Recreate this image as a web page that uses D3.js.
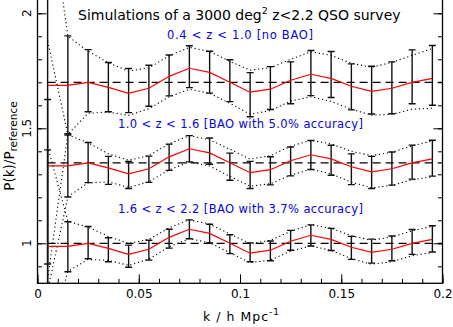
<!DOCTYPE html>
<html>
<head>
<meta charset="utf-8">
<script src="https://cdn.jsdelivr.net/npm/d3@7"></script>
<style>
  body { margin: 0; background: #fff; }
  text { font-family: "DejaVu Sans", sans-serif; }
</style>
</head>
<body>
<svg id="chart" width="453" height="327"></svg>
<script>
// k bins (h/Mpc)
var kValues = [0.005,0.015,0.025,0.035,0.045,0.055,0.065,0.075,0.085,0.095,
               0.105,0.115,0.125,0.135,0.145,0.155,0.165,0.175,0.185,0.195]

// model ratio P(k)/P_reference (red line, same for every redshift bin)
var modelRatio = [0.987,0.987,1.000,0.978,0.952,0.974,1.026,1.061,1.043,1.000,
                  0.957,0.970,1.009,1.035,1.017,0.983,0.961,0.974,1.000,1.017]

// simulated points and errors, 0.4 < z < 1.0
var lowZRatio = [1.053,0.989,1.007,0.979,0.964,0.985,1.030,1.068,1.044,1.007,
                 0.946,0.975,0.998,1.040,1.034,0.980,0.966,0.976,1.024,1.030]
var lowZSigma = [0.843,0.213,0.135,0.107,0.096,0.089,0.089,0.091,0.091,0.091,
                 0.096,0.093,0.091,0.098,0.100,0.100,0.104,0.113,0.117,0.130]

// 1.0 < z < 1.6
var midZRatio = [0.732,0.986,1.001,0.967,0.947,0.972,1.024,1.061,1.051,0.983,
                 0.947,0.965,1.006,1.034,1.011,0.972,0.958,0.975,1.003,1.020]
var midZSigma = [0.543,0.135,0.087,0.061,0.059,0.057,0.057,0.057,0.057,0.059,
                 0.059,0.061,0.063,0.063,0.065,0.067,0.070,0.072,0.074,0.078]

// 1.6 < z < 2.2
var highZRatio = [0.971,0.985,1.003,0.972,0.944,0.970,1.020,1.061,1.042,0.996,
                  0.961,0.967,1.013,1.034,1.017,0.980,0.966,0.978,1.006,1.019]
var highZSigma = [0.435,0.109,0.070,0.052,0.048,0.043,0.041,0.041,0.041,0.041,
                  0.041,0.043,0.043,0.046,0.048,0.050,0.052,0.054,0.054,0.057]

var setOffsets = [0.7, 0.35, 0]
var setLabels = ["0.4 < z < 1.0 [no BAO]",
                 "1.0 < z < 1.6 [BAO with 5.0% accuracy]",
                 "1.6 < z < 2.2 [BAO with 3.7% accuracy]"]

var xTicks = [0, 0.05, 0.1, 0.15, 0.2]
var yTicks = [1, 1.5, 2]

var canvas = d3.select("#chart")

var plot = {left: 37.5, right: 442.5, top: -4, bottom: 283.3}

var xScale = d3.scaleLinear().domain([0, 0.2]).range([plot.left, plot.right])
var yScale = d3.scaleLinear().domain([1, 2]).range([243.3, 13.3])

canvas.append("defs").append("clipPath").attr("id", "plotClip")
      .append("rect")
      .attr("x", plot.left).attr("y", 0)
      .attr("width", plot.right - plot.left)
      .attr("height", plot.bottom)

var inner = canvas.append("g").attr("clip-path", "url(#plotClip)")

var sets = [
  {ratio: lowZRatio, sigma: lowZSigma},
  {ratio: midZRatio, sigma: midZSigma},
  {ratio: highZRatio, sigma: highZSigma}
]

var line = d3.line()
             .x(function(d) { return xScale(d[0]) })
             .y(function(d) { return yScale(d[1]) })

for (var s = 0; s < sets.length; s++) {
  var off = setOffsets[s]
  var set = sets[s]

  // reference level
  inner.append("line")
       .attr("x1", xScale(kValues[0])).attr("x2", xScale(0.2))
       .attr("y1", yScale(1 + off)).attr("y2", yScale(1 + off))
       .attr("stroke", "black")
       .attr("stroke-width", 1.2)
       .attr("stroke-dasharray", "8,5")

  // model +- sigma envelopes
  var upper = [], lower = [], model = []
  for (var i = 0; i < kValues.length; i++) {
    upper.push([kValues[i], modelRatio[i] + set.sigma[i] + off])
    lower.push([kValues[i], modelRatio[i] - set.sigma[i] + off])
    model.push([kValues[i], modelRatio[i] + off])
  }
  inner.selectAll(null).data([upper, lower]).enter()
       .append("path")
       .attr("d", line)
       .attr("fill", "none")
       .attr("stroke", "black")
       .attr("stroke-width", 1.1)
       .attr("stroke-dasharray", "1.2,2.8")

  // error bars
  var bars = inner.append("g")
  for (var i = 0; i < kValues.length; i++) {
    var x = xScale(kValues[i])
    var yHi = yScale(set.ratio[i] + set.sigma[i] + off)
    var yLo = yScale(set.ratio[i] - set.sigma[i] + off)
    bars.append("line")
        .attr("x1", x).attr("x2", x).attr("y1", yHi).attr("y2", yLo)
    bars.append("line")
        .attr("x1", x - 3.5).attr("x2", x + 3.5).attr("y1", yHi).attr("y2", yHi)
    bars.append("line")
        .attr("x1", x - 3.5).attr("x2", x + 3.5).attr("y1", yLo).attr("y2", yLo)
  }
  bars.selectAll("line")
      .attr("stroke", "#111")
      .attr("stroke-width", 1.4)

  // model line
  inner.append("path")
       .attr("d", line(model))
       .attr("fill", "none")
       .attr("stroke", "#ff0000")
       .attr("stroke-width", 1.2)
}

// axes (ticks inward like the original plot)
var xAxis = d3.axisBottom(xScale).tickValues(xTicks).tickSize(-9).tickSizeOuter(0)
              .tickPadding(6).tickFormat(function(d) { return d == 0 ? "0" : String(d) })
var xMinor = d3.axisBottom(xScale).ticks(20).tickSize(-4.5).tickSizeOuter(0).tickFormat("")
var yMinor = d3.axisLeft(yScale).tickValues(d3.range(0.9, 2.06, 0.1)).tickSize(-4.5).tickSizeOuter(0).tickFormat("")
var yMajor = d3.axisLeft(yScale).tickValues(yTicks).tickSize(-9).tickSizeOuter(0).tickFormat("")
var rMinor = d3.axisRight(yScale).tickValues(d3.range(0.9, 2.06, 0.1)).tickSize(-4.5).tickSizeOuter(0).tickFormat("")
var rMajor = d3.axisRight(yScale).tickValues(yTicks).tickSize(-9).tickSizeOuter(0).tickFormat("")

var gx = canvas.append("g").attr("transform", "translate(0," + plot.bottom + ")")
gx.call(xMinor)
gx.append("g").call(xAxis)
var gy = canvas.append("g").attr("transform", "translate(" + plot.left + ",0)")
gy.call(yMinor)
gy.append("g").call(yMajor)
var gr = canvas.append("g").attr("transform", "translate(" + plot.right + ",0)")
gr.call(rMinor)
gr.append("g").call(rMajor)

canvas.selectAll(".domain").remove()
canvas.selectAll(".tick line").attr("stroke", "black").attr("stroke-width", 1)
gx.selectAll("text").attr("font-size", 12).attr("fill", "black")
  .attr("font-family", "DejaVu Sans")

// frame
canvas.append("rect")
      .attr("x", plot.left).attr("y", plot.top)
      .attr("width", plot.right - plot.left)
      .attr("height", plot.bottom - plot.top)
      .attr("fill", "none")
      .attr("stroke", "black")
      .attr("stroke-width", 1.3)

// y tick labels, rotated
canvas.selectAll(".ylab").data(yTicks).enter()
      .append("text")
      .attr("transform", function(d) { return "translate(30.5," + yScale(d) + ") rotate(-90)" })
      .attr("text-anchor", "middle")
      .attr("font-size", 12)
      .text(function(d) { return String(d) })

// axis titles
var yTitle = canvas.append("text")
                   .attr("transform", "translate(14,146) rotate(-90)")
                   .attr("text-anchor", "middle")
                   .attr("font-size", 13.5)
yTitle.append("tspan").text("P(k)/P")
yTitle.append("tspan").attr("font-size", 10.5).attr("dy", 3).text("reference")

var xTitle = canvas.append("text")
                   .attr("x", 203).attr("y", 321)
                   .attr("textLength", 76)
                   .attr("lengthAdjust", "spacing")
                   .attr("font-size", 12.5)
xTitle.append("tspan").text("k / h Mpc")
xTitle.append("tspan").attr("font-size", 9).attr("dy", -6).text("-1")

// title
var title = canvas.append("text")
                  .attr("x", 78).attr("y", 19.5)
                  .attr("font-size", 14)
title.append("tspan").text("Simulations of a 3000 deg")
title.append("tspan").attr("font-size", 9.5).attr("dy", -6).text("2")
title.append("tspan").attr("dy", 6).text(" z<2.2 QSO survey")

// redshift bin labels
var labelPos = [[167, 38.5, 146], [118, 128.3, 245], [118, 212.7, 245]]
canvas.selectAll(".binlab").data(setLabels).enter()
      .append("text")
      .attr("x", function(d, i) { return labelPos[i][0] })
      .attr("y", function(d, i) { return labelPos[i][1] })
      .attr("textLength", function(d, i) { return labelPos[i][2] })
      .attr("lengthAdjust", "spacing")
      .attr("font-size", 11.5)
      .attr("fill", "#0000ff")
      .text(function(d) { return d })
</script>
</body>
</html>
